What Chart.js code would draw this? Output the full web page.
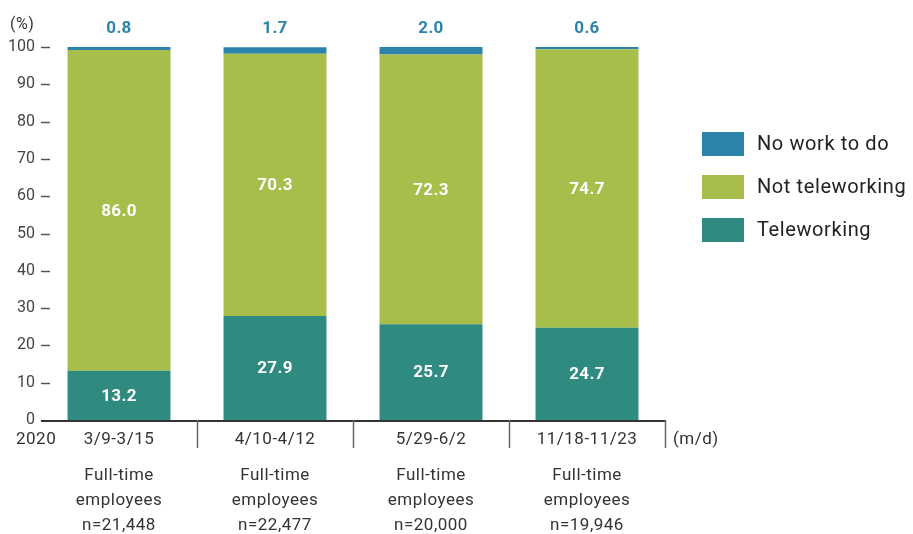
<!doctype html>
<html lang="en">
<head>
  <meta charset="utf-8">
  <title>Teleworking among full-time employees, 2020</title>
  <script src="https://cdn.jsdelivr.net/npm/chart.js"></script>
  <style>
    body { margin: 0; background: #fff; }
    canvas { display: block; }
  </style>
</head>
<body>
  <canvas id="chart" width="913" height="534"></canvas>
  <script>
    // survey periods (m/d) and sample sizes
    const periods = ['3/9-3/15', '4/10-4/12', '5/29-6/2', '11/18-11/23'];
    const samples = ['n=21,448', 'n=22,477', 'n=20,000', 'n=19,946'];

    // shares in %
    const teleworking = [13.2, 27.9, 25.7, 24.7];
    const notTeleworking = [86.0, 70.3, 72.3, 74.7];
    const noWork = [0.8, 1.7, 2.0, 0.6];

    const yTicks = [0, 10, 20, 30, 40, 50, 60, 70, 80, 90, 100];

    const FONT = 'Roboto, "DejaVu Sans", sans-serif';
    const TEXT = '#333';

    const decor = {
      id: 'decor',
      afterDatasetsDraw(chart) {
        const ctx = chart.ctx;
        const area = chart.chartArea;
        const x = chart.scales.x;
        const y = chart.scales.y;
        ctx.save();

        // short dashes next to the y labels
        ctx.strokeStyle = '#555';
        ctx.lineWidth = 1.5;
        yTicks.forEach(v => {
          if (v === 0) return;
          const py = Math.round(y.getPixelForValue(v)) + 0.5;
          ctx.beginPath();
          ctx.moveTo(area.left, py);
          ctx.lineTo(area.left + 9, py);
          ctx.stroke();
        });

        // base line and category separators
        ctx.strokeStyle = '#333';
        ctx.lineWidth = 2;
        ctx.beginPath();
        ctx.moveTo(area.left, area.bottom + 1);
        ctx.lineTo(area.right, area.bottom + 1);
        ctx.stroke();
        ctx.strokeStyle = '#666';
        ctx.lineWidth = 1.5;
        periods.forEach((p, i) => {
          const sx = i < periods.length - 1
            ? (x.getPixelForValue(i) + x.getPixelForValue(i + 1)) / 2
            : area.right;
          ctx.beginPath();
          ctx.moveTo(Math.round(sx) + 0.5, area.bottom);
          ctx.lineTo(Math.round(sx) + 0.5, area.bottom + 28);
          ctx.stroke();
        });

        // category text
        ctx.fillStyle = TEXT;
        ctx.textBaseline = 'middle';
        ctx.font = '17px ' + FONT;
        ctx.letterSpacing = '0.5px';
        ctx.textAlign = 'center';
        periods.forEach((p, i) => {
          const cx = x.getPixelForValue(i);
          ctx.fillText(p, cx, area.bottom + 20);
          ctx.fillText('Full-time', cx, area.bottom + 56);
          ctx.fillText('employees', cx, area.bottom + 81);
          ctx.fillText(samples[i], cx, area.bottom + 106);
        });
        ctx.textAlign = 'left';
        ctx.fillText('2020', 16, area.bottom + 20);
        ctx.fillText('(m/d)', area.right + 8, area.bottom + 20);
        ctx.font = '16px ' + FONT;
        ctx.fillText('(%)', 10, 25);

        // value labels
        ctx.letterSpacing = '0.3px';
        ctx.textAlign = 'center';
        ctx.font = 'bold 17px ' + FONT;
        chart.data.datasets.forEach((ds, di) => {
          const meta = chart.getDatasetMeta(di);
          meta.data.forEach((el, i) => {
            const txt = ds.data[i].toFixed(1);
            if (ds.label === 'No work to do') {
              ctx.fillStyle = ds.backgroundColor;
              ctx.fillText(txt, el.x, area.top - 18);
            } else {
              ctx.fillStyle = '#fff';
              ctx.fillText(txt, el.x, (el.y + el.base) / 2 + 1);
            }
          });
        });

        // legend, top series first
        ctx.textAlign = 'left';
        ctx.font = '20px ' + FONT;
        ctx.letterSpacing = '0.6px';
        const sets = chart.data.datasets.slice().reverse();
        sets.forEach((ds, k) => {
          const cy = 144 + k * 43;
          ctx.fillStyle = ds.backgroundColor;
          ctx.fillRect(702, cy - 12, 42, 24);
          ctx.fillStyle = '#222';
          ctx.fillText(ds.label, 757, cy + 1);
        });

        ctx.restore();
      }
    };

    new Chart(document.getElementById('chart'), {
      type: 'bar',
      data: {
        labels: periods,
        datasets: [
          { label: 'Teleworking', data: teleworking, backgroundColor: '#2f8b80' },
          { label: 'Not teleworking', data: notTeleworking, backgroundColor: '#a7be4b' },
          { label: 'No work to do', data: noWork, backgroundColor: '#2c84aa' }
        ]
      },
      options: {
        responsive: false,
        devicePixelRatio: 1,
        animation: false,
        datasets: { bar: { categoryPercentage: 1, barPercentage: 0.66, borderWidth: 0 } },
        layout: { padding: { top: 47, right: 248, bottom: 114, left: 0 } },
        plugins: { legend: { display: false }, tooltip: { enabled: false } },
        scales: {
          x: { stacked: true, display: false },
          y: {
            stacked: true,
            min: 0,
            max: 100,
            afterFit(scale) { scale.width = 41; },
            afterBuildTicks(scale) { scale.ticks = yTicks.map(v => ({ value: v })); },
            grid: { display: false, drawTicks: false },
            border: { display: false },
            ticks: { padding: 6, color: '#444', font: { family: FONT, size: 16 } }
          }
        }
      },
      plugins: [decor]
    });
  </script>
</body>
</html>
